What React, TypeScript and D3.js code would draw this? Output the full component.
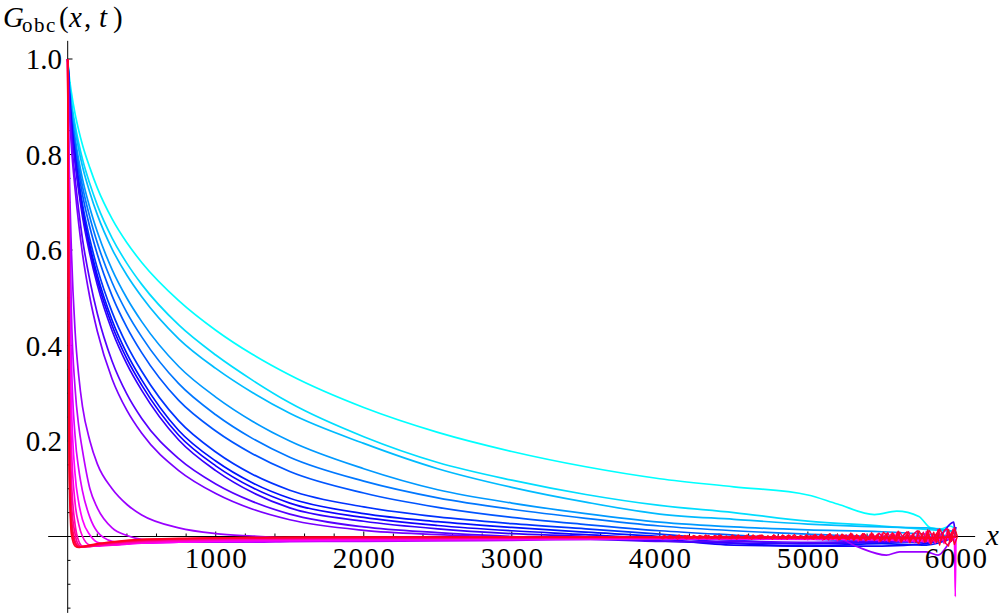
import React, { useEffect, useRef } from "react";
import * as d3 from "d3";

// sample positions shared by the smooth part of every curve
const xGrid = [0, 10, 25, 50, 75, 100, 150, 200, 300, 400, 500, 750, 1000, 1250, 1500, 2000, 2500, 3000, 3500, 4000, 4500, 5000, 5500, 5800, 6000];

// curves from slowest (cyan) to fastest (red) decay
const gA = [1, 0.965, 0.93, 0.885, 0.85, 0.82, 0.772, 0.73, 0.665, 0.615, 0.574, 0.494, 0.432, 0.381, 0.338, 0.27, 0.218, 0.178, 0.146, 0.121, 0.104, 0.087, 0.046, 0.03, 0.015];
const gB = [1, 0.955, 0.912, 0.862, 0.823, 0.79, 0.738, 0.694, 0.625, 0.572, 0.528, 0.443, 0.38, 0.327, 0.28, 0.209, 0.155, 0.118, 0.088, 0.065, 0.05, 0.032, 0.022, 0.015, 0.01];
const gC = [1, 0.952, 0.905, 0.852, 0.81, 0.775, 0.72, 0.674, 0.602, 0.547, 0.502, 0.414, 0.352, 0.301, 0.258, 0.195, 0.142, 0.103, 0.072, 0.047, 0.036, 0.026, 0.02, 0.018, 0.01];
const gD = [1, 0.946, 0.893, 0.835, 0.788, 0.749, 0.688, 0.638, 0.559, 0.499, 0.45, 0.356, 0.292, 0.241, 0.2, 0.142, 0.098, 0.07, 0.048, 0.03, 0.02, 0.014, 0.01, 0.005, 0.0];
const gE = [1, 0.942, 0.886, 0.825, 0.775, 0.733, 0.668, 0.615, 0.532, 0.469, 0.418, 0.32, 0.255, 0.205, 0.166, 0.116, 0.081, 0.057, 0.038, 0.022, 0.012, 0.005, 0.0, 0.0, 0.0];
const gF = [1, 0.938, 0.878, 0.814, 0.761, 0.716, 0.647, 0.591, 0.504, 0.438, 0.385, 0.285, 0.221, 0.173, 0.136, 0.091, 0.061, 0.04, 0.025, 0.012, 0.003, -0.005, -0.01, -0.008, 0.0];
const gG = [1, 0.934, 0.87, 0.801, 0.744, 0.696, 0.622, 0.562, 0.47, 0.401, 0.346, 0.242, 0.177, 0.13, 0.097, 0.062, 0.041, 0.027, 0.016, 0.005, -0.008, -0.015, -0.01, -0.012, 0.0];
const gH = [1, 0.931, 0.865, 0.794, 0.735, 0.685, 0.609, 0.547, 0.453, 0.383, 0.328, 0.222, 0.158, 0.112, 0.08, 0.048, 0.031, 0.019, 0.009, 0.0, -0.014, -0.02, -0.015, -0.018, 0.0];
const gI = [1, 0.929, 0.861, 0.789, 0.729, 0.678, 0.6, 0.537, 0.442, 0.372, 0.317, 0.212, 0.148, 0.102, 0.07, 0.04, 0.023, 0.012, 0.004, -0.005, -0.018, -0.02, -0.02, -0.015, 0.01];
const gJ = [1, 0.927, 0.857, 0.783, 0.722, 0.67, 0.591, 0.527, 0.431, 0.361, 0.306, 0.202, 0.138, 0.092, 0.06, 0.032, 0.016, 0.006, 0.0, -0.009, -0.014, -0.015, -0.012, -0.01, 0.02];
const gK = [1, 0.915, 0.835, 0.75, 0.681, 0.623, 0.536, 0.467, 0.367, 0.298, 0.247, 0.163, 0.11, 0.073, 0.047, 0.02, 0.008, 0.0, -0.005, -0.01, -0.01, -0.012, -0.01, -0.01, 0.0];
const gL = [1, 0.905, 0.818, 0.727, 0.653, 0.592, 0.5, 0.43, 0.33, 0.264, 0.216, 0.138, 0.09, 0.057, 0.035, 0.013, 0.004, -0.002, -0.005, -0.005, -0.005, -0.004, -0.006, -0.006, 0.0];
const gM = [1, 0.78, 0.6, 0.43, 0.335, 0.272, 0.2, 0.152, 0.1, 0.067, 0.045, 0.018, 0.006, 0.001, -0.003, -0.005, -0.005, -0.006, -0.006, -0.005, -0.004, -0.004, -0.038, -0.032, 0.0];
const gN = [1, 0.72, 0.47, 0.31, 0.23, 0.18, 0.1, 0.06, 0.018, 0.002, -0.006, -0.01, -0.012, -0.012, -0.011, -0.01, -0.009, -0.008, -0.006, -0.005, -0.006, -0.005, -0.006, -0.008, 0.0];
const gO = [1, 0.62, 0.37, 0.21, 0.14, 0.095, 0.04, 0.01, -0.01, -0.014, -0.014, -0.012, -0.01, -0.01, -0.009, -0.008, -0.007, -0.006, -0.005, -0.004, -0.005, -0.006, -0.007, -0.01, 0.0];
const gP = [1, 0.52, 0.28, 0.13, 0.07, 0.035, 0.003, -0.012, -0.018, -0.016, -0.014, -0.012, -0.01, -0.008, -0.008, -0.007, -0.006, -0.005, -0.005, -0.004, -0.004, -0.005, -0.006, -0.008, -0.005];
const gQ = [1, 0.42, 0.19, 0.07, 0.025, 0.0, -0.018, -0.02, -0.018, -0.015, -0.013, -0.01, -0.008, -0.007, -0.006, -0.005, -0.005, -0.004, -0.004, -0.003, -0.004, -0.004, -0.005, -0.006, 0.0];
const gR = [1, 0.34, 0.12, 0.025, -0.01, -0.02, -0.021, -0.019, -0.016, -0.013, -0.011, -0.008, -0.006, -0.005, -0.005, -0.004, -0.004, -0.003, -0.003, -0.003, -0.003, -0.003, -0.004, -0.005, 0.0];
const gS = [1, 0.27, 0.07, 0.005, -0.018, -0.022, -0.021, -0.018, -0.014, -0.011, -0.009, -0.006, -0.005, -0.004, -0.004, -0.003, -0.003, -0.003, -0.002, -0.002, -0.003, -0.003, -0.004, -0.004, 0.0];
const gT = [1, 0.22, 0.04, -0.01, -0.021, -0.022, -0.02, -0.017, -0.013, -0.01, -0.008, -0.005, -0.004, -0.003, -0.003, -0.002, -0.002, -0.002, -0.002, -0.002, -0.002, -0.003, -0.003, -0.004, 0.0];
const gU = [1, 0.18, 0.02, -0.015, -0.022, -0.022, -0.019, -0.016, -0.012, -0.009, -0.007, -0.005, -0.003, -0.003, -0.002, -0.002, -0.002, -0.001, -0.001, -0.002, -0.002, -0.002, -0.003, -0.003, 0.0];
const gV = [1, 0.14, 0.005, -0.02, -0.023, -0.021, -0.018, -0.015, -0.011, -0.008, -0.006, -0.004, -0.003, -0.002, -0.002, -0.001, -0.001, -0.001, -0.001, -0.001, -0.002, -0.002, -0.002, -0.003, 0.0];

// irregular details near the right end
const tailA: [number, number][] = [[5200, 0.068], [5450, 0.046], [5600, 0.053], [5750, 0.042], [5830, 0.018], [5900, 0.016], [5960, 0.022]];
const tailM: [number, number][] = [[5200, -0.004], [5330, -0.021], [5530, -0.039], [5620, -0.032], [5800, -0.032], [5880, -0.039], [5960, -0.012]];
const tailJ: [number, number][] = [[5900, 0.005], [5985, 0.03], [5995, 0.01]];
const tailP: [number, number][] = [[5990, -0.004], [5996, -0.126]];

// fluctuating red band close to zero, one value every 20 units from 4000
const noiseStart = 4000;
const noiseStep = 20;
const redNoise1 = [
  0.001, -0.002, 0.002, -0.001, 0.0, 0.002, -0.003, 0.001, 0.002, -0.002,
  0.001, -0.001, 0.003, -0.002, 0.0, 0.002, -0.002, 0.003, -0.001, 0.001,
  -0.003, 0.002, 0.0, 0.003, -0.002, 0.001, -0.003, 0.002, 0.003, -0.001,
  0.002, -0.003, 0.001, 0.004, -0.002, 0.002, -0.001, 0.003, -0.003, 0.002,
  0.004, -0.002, 0.001, -0.003, 0.004, 0.0, 0.003, -0.002, 0.004, -0.003,
  0.002, 0.005, -0.003, 0.004, -0.002, 0.006, 0.001, -0.004, 0.005, -0.001,
  0.007, -0.003, 0.004, 0.006, -0.004, 0.008, -0.002, 0.005, -0.005, 0.009,
  0.002, -0.004, 0.008, -0.003, 0.01, 0.004, -0.006, 0.011, -0.002, 0.009,
  -0.007, 0.012, 0.003, -0.005, 0.013, -0.004, 0.01, 0.015, -0.006, 0.012,
  -0.008, 0.016, 0.005, -0.007, 0.018, -0.005, 0.014, 0.02, -0.009, 0.017, 0.0,
];
const redNoise2 = [
  -0.002, 0.001, -0.001, 0.002, -0.003, 0.001, 0.0, -0.002, 0.002, -0.001,
  -0.003, 0.002, -0.001, 0.001, -0.002, 0.003, -0.001, -0.003, 0.002, 0.0,
  0.002, -0.002, 0.001, -0.003, 0.003, -0.001, 0.001, -0.002, 0.0, 0.003,
  -0.003, 0.001, -0.002, 0.002, 0.003, -0.003, 0.001, -0.002, 0.003, -0.001,
  -0.003, 0.003, -0.002, 0.002, -0.001, 0.004, -0.003, 0.001, -0.002, 0.003,
  -0.004, 0.001, 0.004, -0.003, 0.005, -0.005, 0.002, 0.006, -0.004, 0.003,
  -0.006, 0.005, 0.001, -0.005, 0.007, -0.003, 0.004, -0.007, 0.006, 0.002,
  -0.006, 0.008, -0.004, 0.005, -0.008, 0.009, 0.003, -0.007, 0.008, -0.005,
  0.011, -0.008, 0.004, 0.01, -0.009, 0.006, -0.01, 0.012, 0.002, -0.009,
  0.014, -0.011, 0.009, -0.012, 0.016, 0.004, -0.012, 0.015, -0.01, 0.019, 0.0,
];

// hue of each curve in degrees, cyan to red
const curveValues = [gA, gB, gC, gD, gE, gF, gG, gH, gI, gJ, gK, gL, gM, gN, gO, gP, gQ, gR, gS, gT, gU, gV];
const curveHues = [180, 188, 196, 204, 212, 220, 228, 236, 244, 252, 260, 268, 276, 284, 292, 300, 309, 318, 327, 336, 345, 352];
const curveTails: Record<number, [number, number][]> = { 0: tailA, 9: tailJ, 12: tailM, 15: tailP };

const yTicks = [0.2, 0.4, 0.6, 0.8, 1.0];
const xTicks = [1000, 2000, 3000, 4000, 5000, 6000];

const App = () => {
  const svgRef = useRef<SVGSVGElement>(null);

  useEffect(() => {
    const width = 1000;
    const height = 614;
    const svg = d3.select(svgRef.current);
    svg.selectAll("*").remove();
    svg.attr("width", width).attr("height", height);

    const font = "'Liberation Serif', 'Times New Roman', serif";

    const x = d3.scaleLinear().domain([0, 6000]).range([67.7, 955.9]);
    const y = d3.scaleLinear().domain([0, 1]).range([536.5, 59]);

    // --- Axes ---
    const axes = svg.append("g").attr("stroke", "#000").attr("stroke-width", 1);
    axes.append("line")
      .attr("x1", x(0)).attr("x2", x(0))
      .attr("y1", y(1.038)).attr("y2", y(-0.16));
    axes.append("line")
      .attr("x1", x(-132)).attr("x2", x(6130))
      .attr("y1", y(0)).attr("y2", y(0));

    // y ticks point into the plot, 3 minor ticks between labels
    d3.range(-3, 21).forEach((i) => {
      const v = i * 0.05;
      const major = i % 4 === 0;
      axes.append("line")
        .attr("x1", x(0)).attr("x2", x(0) + (major ? 4.8 : 2.8))
        .attr("y1", y(v)).attr("y2", y(v));
    });
    d3.range(1, 31).forEach((i) => {
      const v = i * 200;
      const major = i % 5 === 0;
      axes.append("line")
        .attr("x1", x(v)).attr("x2", x(v))
        .attr("y1", y(0)).attr("y2", y(0) - (major ? 5 : 3));
    });

    // --- Curves ---
    const line = d3.line<[number, number]>()
      .x((d) => x(d[0]))
      .y((d) => y(d[1]))
      .curve(d3.curveMonotoneX);
    const rawLine = d3.line<[number, number]>()
      .x((d) => x(d[0]))
      .y((d) => y(d[1]));

    const curves = svg.append("g").attr("fill", "none").attr("stroke-width", 1.7).attr("stroke-linejoin", "round");

    curveValues.forEach((vals, i) => {
      let pts: [number, number][] = xGrid.map((xv, j) => [xv, vals[j]] as [number, number]);
      const tail = curveTails[i];
      if (tail) {
        const tailStart = tail[0][0];
        const tailEnd = tail[tail.length - 1][0];
        pts = pts.filter((p) => p[0] < tailStart - 50 || p[0] > tailEnd);
        pts = pts.concat(tail).sort((a, b) => a[0] - b[0]);
      }
      const c = d3.hsl(curveHues[i], 1, 0.5).toString();
      curves.append("path").attr("d", line(pts)).attr("stroke", c);

      // some pink and red curves carry the noisy band near zero
      if (i === 14 || i === 17 || i === 20) {
        const noise = i === 17 ? redNoise2 : redNoise1;
        const np: [number, number][] = noise.map((v, k) => [noiseStart + k * noiseStep, v - 0.003] as [number, number]);
        curves.append("path").attr("d", rawLine(np)).attr("stroke", c).attr("stroke-width", 1.2);
      }
    });
    [redNoise2, redNoise1].forEach((noise, k) => {
      const np: [number, number][] = noise.map((v, j) => [noiseStart + j * noiseStep + 10, k ? -v : v] as [number, number]);
      curves.append("path")
        .attr("d", rawLine(np))
        .attr("stroke", d3.hsl(350, 1, 0.5).toString())
        .attr("stroke-width", 1.4);
    });

    // --- Tick labels ---
    const labels = svg.append("g").attr("font-family", font).attr("font-size", 29).attr("fill", "#000");
    yTicks.forEach((v) => {
      labels.append("text")
        .attr("x", 62).attr("y", y(v) + 10)
        .attr("text-anchor", "end")
        .text(v.toFixed(1));
    });
    xTicks.forEach((v) => {
      labels.append("text")
        .attr("x", x(v) + 0.7).attr("y", 568)
        .attr("text-anchor", "middle")
        .attr("letter-spacing", 1.4)
        .text(String(v));
    });

    // --- Axis titles ---
    labels.append("text")
      .attr("x", 986).attr("y", 545)
      .attr("font-style", "italic")
      .text("x");

    const title = labels.append("text").attr("y", 27);
    title.append("tspan").attr("x", 3).attr("font-style", "italic").text("G");
    title.append("tspan").attr("x", 22).attr("y", 32).attr("font-size", 21).attr("letter-spacing", 1.5).text("obc");
    title.append("tspan").attr("x", 59).attr("y", 27).text("(");
    title.append("tspan").attr("x", 69).attr("font-style", "italic").text("x");
    title.append("tspan").attr("x", 84).text(",");
    title.append("tspan").attr("x", 99).attr("font-style", "italic").text("t");
    title.append("tspan").attr("x", 113).text(")");
  }, []);

  return (
    <svg
      ref={svgRef}
      style={{ position: "absolute", left: 0, top: 0, background: "#fff" }}
    ></svg>
  );
};

export default App;
